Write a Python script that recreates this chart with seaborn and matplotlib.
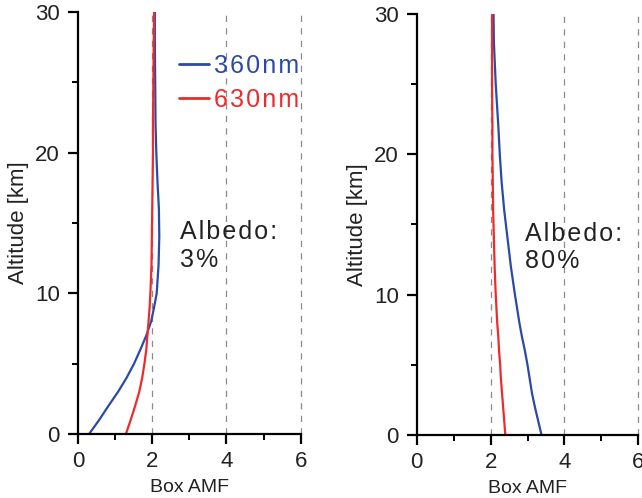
import matplotlib
matplotlib.use("Agg")
import matplotlib.pyplot as plt
import seaborn as sns
import pandas as pd
from matplotlib.ticker import MultipleLocator

# ---- data ----
altitude = [0, 1, 2, 3, 4, 5, 6, 7, 8, 9, 10, 12, 14, 16, 18, 20, 22, 25, 28, 30]

amf_360_albedo3 = [0.30, 0.57, 0.82, 1.08, 1.31, 1.51, 1.68, 1.84, 1.97, 2.05, 2.12,
                   2.17, 2.19, 2.18, 2.14, 2.11, 2.09, 2.08, 2.07, 2.07]
amf_630_albedo3 = [1.29, 1.42, 1.54, 1.65, 1.73, 1.79, 1.84, 1.87, 1.90, 1.93, 1.95,
                   1.98, 1.99, 2.00, 2.01, 2.02, 2.02, 2.03, 2.04, 2.05]
amf_360_albedo80 = [3.38, 3.29, 3.20, 3.12, 3.06, 3.00, 2.93, 2.85, 2.78, 2.72, 2.66,
                    2.55, 2.46, 2.37, 2.30, 2.25, 2.21, 2.14, 2.09, 2.08]
amf_630_albedo80 = [2.40, 2.37, 2.34, 2.31, 2.28, 2.26, 2.23, 2.21, 2.18, 2.16, 2.14,
                    2.11, 2.09, 2.07, 2.06, 2.05, 2.05, 2.04, 2.04, 2.04]

wavelengths = ["360nm", "630nm"]
albedo_labels = ["Albedo:\n3%", "Albedo:\n80%"]
x_ticks = [0, 2, 4, 6]
y_ticks = [0, 10, 20, 30]

colors = {"360nm": "#2b4aa6", "630nm": "#ee2a2a"}

HS = "\u200a"


def spaced(s):
    return "\n".join(HS.join(list(line)) for line in s.split("\n"))


sns.set_style("ticks")
plt.rcParams["font.family"] = ["Liberation Sans", "DejaVu Sans"]

fig = plt.figure(figsize=(6.42, 4.98), dpi=100)
ax_pos = [
    [78 / 642, 1 - 434 / 498, 222.7 / 642, 422 / 498],
    [416.7 / 642, 1 - 435 / 498, 221.6 / 642, 421 / 498],
]

panels = [
    (amf_360_albedo3, amf_630_albedo3),
    (amf_360_albedo80, amf_630_albedo80),
]

for i, (b, r) in enumerate(panels):
    ax = fig.add_axes(ax_pos[i])
    df = pd.DataFrame({
        "amf": b + r,
        "alt": altitude + altitude,
        "wl": [wavelengths[0]] * len(altitude) + [wavelengths[1]] * len(altitude),
    })
    for x in x_ticks[1:]:
        ax.axvline(x, color="#8a8a8a", lw=0.9, ls=(0, (5, 5)), zorder=0, clip_on=False)
    sns.lineplot(data=df, x="amf", y="alt", hue="wl", palette=colors,
                 orient="y", estimator=None, lw=1.6, ax=ax, legend=(i == 0))
    ax.set_xlim(0, 6)
    ax.set_ylim(0, 30)
    ax.set_xticks(x_ticks)
    ax.set_yticks(y_ticks)
    ax.xaxis.set_minor_locator(MultipleLocator(1))
    ax.yaxis.set_minor_locator(MultipleLocator(5))
    for s in ["top", "right"]:
        ax.spines[s].set_visible(False)
    for s in ["left", "bottom"]:
        ax.spines[s].set_linewidth(1.6)
        ax.spines[s].set_color("black")
    ax.tick_params(axis="both", which="major", direction="out", length=7, width=1.6,
                   labelsize=16, color="black", labelcolor="#222222")
    ax.tick_params(axis="x", which="major", pad=5)
    ax.tick_params(axis="y", which="major", pad=6)
    ax.tick_params(axis="both", which="minor", direction="out", length=4, width=1.4,
                   color="black")
    ax.set_xlabel("Box AMF", fontsize=14, color="#222222")
    ax.set_ylabel("Altitude [km]", fontsize=16, color="#222222")
    ax.xaxis.set_label_coords(0.5, -0.106)
    ax.xaxis.label.set_va("top")
    ax.yaxis.set_label_coords(-0.22, 0.5)
    ax.patch.set_visible(False)
    tx = 2.75 if i == 0 else 2.93
    ax.text(tx, 15.2, spaced(albedo_labels[i]), fontsize=18, va="top", ha="left",
            color="#222222", linespacing=1.2)
    if i == 0:
        leg = ax.legend(loc="upper left", bbox_to_anchor=(0.41, 0.925), frameon=False,
                        handlelength=1.2, handletextpad=0.2, labelspacing=0.42,
                        fontsize=18, labelcolor="linecolor", borderaxespad=0)
        for h in leg.get_lines():
            h.set_linewidth(2.0)
        for t in leg.get_texts():
            t.set_text(spaced(t.get_text()))

fig.savefig("out.png", dpi=100)
